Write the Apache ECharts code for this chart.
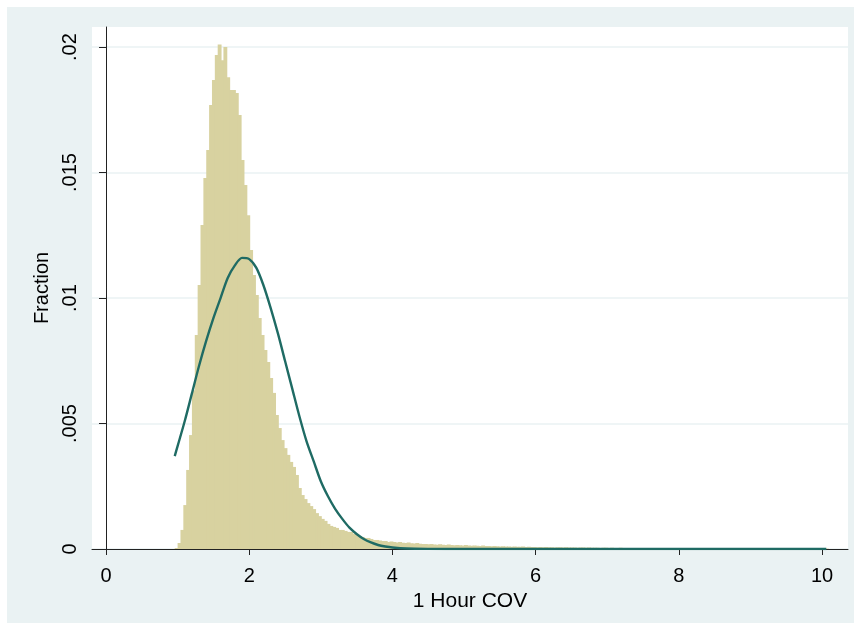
<!DOCTYPE html>
<html>
<head>
<meta charset="utf-8">
<script src="https://cdn.jsdelivr.net/npm/echarts@6.0.0/dist/echarts.min.js"></script>
<style>
  html, body { margin: 0; padding: 0; background: #fff; }
  #main { width: 860px; height: 630px; }
</style>
</head>
<body>
<div id="main"></div>
<script>
// histogram: bins of equal width, starting at binStart
var binStart = 0.96;
var binWidth = 0.04;
// fraction per bin, main body (1 - 4)
var fracBody = [
  0.00004, 0.00024, 0.00076, 0.00175, 0.00315, 0.00454, 0.00633, 0.00853, 0.01052, 0.01291,
  0.01478, 0.0159, 0.01769, 0.01869, 0.01968, 0.0201, 0.01948, 0.0200, 0.0188, 0.01829,
  0.01829, 0.01817, 0.01729, 0.0155, 0.0145, 0.0133, 0.01191, 0.01092, 0.01012, 0.0092,
  0.00853, 0.00793, 0.00745, 0.00681, 0.00622, 0.00534, 0.00482, 0.00434, 0.00402, 0.00375,
  0.00347, 0.00327, 0.00295, 0.00243, 0.00215, 0.00199, 0.00183, 0.00171, 0.00159, 0.00143,
  0.00131, 0.0012, 0.00112, 0.001, 0.00092, 0.00088, 0.00084, 0.00076, 0.00076, 0.00072,
  0.00068, 0.00068, 0.0006, 0.00056, 0.00052, 0.00048, 0.00044, 0.00044, 0.0004, 0.00036,
  0.00036, 0.00034, 0.00032, 0.00032, 0.00028
];
// long right tail (4 - 10)
var fracTail = [
  0.0003, 0.00028, 0.00026, 0.00028, 0.00025, 0.00024, 0.00026, 0.00023, 0.00022, 0.00024, 0.00021, 0.0002,
  0.0002, 0.00019, 0.0002, 0.00018, 0.00017, 0.00019, 0.00017, 0.00016, 0.00018, 0.00016, 0.00015, 0.00016,
  0.00015, 0.00014, 0.00016, 0.00014, 0.00013, 0.00014, 0.00013, 0.00012, 0.00014, 0.00012, 0.00012, 0.00011,
  0.00012, 0.00011, 0.0001, 0.00011, 0.0001, 0.0001, 0.00009, 0.0001, 0.00009, 0.00009, 0.0001, 0.00008,
  0.00009, 0.00008, 0.00008, 0.00007, 0.00008, 0.00007, 0.00008, 0.00007, 0.00007, 0.00006, 0.00007, 0.00007,
  0.00006, 0.00007, 0.00006, 0.00006, 0.00006, 0.00005, 0.00006, 0.00006, 0.00005, 0.00006, 0.00005,
  0.00005, 0.00005, 0.00004, 0.00005, 0.00005, 0.00004, 0.00005, 0.00004, 0.00004, 0.00005, 0.00004, 0.00004,
  0.00004, 0.00003, 0.00004, 0.00004, 0.00003, 0.00004, 0.00003, 0.00004, 0.00003, 0.00003, 0.00004, 0.00003,
  0.00003, 0.00003, 0.00004, 0.00003, 0.00003, 0.00003,
  0.00003, 0.00002, 0.00003, 0.00003, 0.00002, 0.00003, 0.00002, 0.00003, 0.00002, 0.00002, 0.00003, 0.00002,
  0.00002, 0.00003, 0.00002, 0.00002, 0.00002, 0.00003, 0.00002, 0.00002, 0.00002, 0.00002, 0.00003, 0.00002,
  0.00002, 0.00002, 0.00002, 0.00002, 0.00003, 0.00002, 0.00002, 0.00002, 0.00002, 0.00002, 0.00002, 0.00002,
  0.00002, 0.00002, 0.00003, 0.00002, 0.00002, 0.00002, 0.00002, 0.00002, 0.00002, 0.00002, 0.00002, 0.00002,
  0.00002, 0.00002, 0.00002, 0.00002
];

// normal density overlay
var curveX = [0.96, 1.0, 1.1, 1.2, 1.3, 1.4, 1.5, 1.6, 1.7, 1.8, 1.9, 2.0, 2.1, 2.2, 2.3, 2.4, 2.5, 2.6,
  2.7, 2.8, 2.9, 3.0, 3.1, 3.2, 3.3, 3.4, 3.5, 3.6, 3.7, 3.8, 3.9, 4.0, 4.2, 4.5, 5.0, 6.0, 7.0, 8.0, 9.0, 10.06];
var curveY = [0.0037, 0.0041, 0.0051, 0.0062, 0.0073, 0.0083, 0.0092, 0.0100, 0.0108, 0.0113, 0.0116, 0.01155,
  0.0112, 0.0105, 0.0096, 0.0086, 0.0075, 0.0064, 0.0053, 0.0043, 0.0035, 0.0027, 0.0021, 0.0016, 0.0012,
  0.00085, 0.0006, 0.0004, 0.00026, 0.00016, 0.0001, 0.00006, 0.00002, 0.000005, 0, 0, 0, 0, 0, 0];

var xTicks = [0, 2, 4, 6, 8, 10];
var yTicks = [0, 0.005, 0.01, 0.015, 0.02];

var fractions = fracBody.concat(fracTail);
var histData = fractions.map(function (v, i) {
  return [binStart + i * binWidth, v];
});
var curveData = curveX.map(function (x, i) {
  return [x, curveY[i]];
});

var font = "'Liberation Sans', Arial, sans-serif";
var chart = echarts.init(document.getElementById('main'));

chart.setOption({
  backgroundColor: '#fff',
  animation: false,
  graphic: [{
    type: 'rect',
    z: -10,
    shape: { x: 7, y: 7, width: 847, height: 616 },
    style: { fill: '#EAF2F3' }
  }],
  grid: {
    left: 92,
    right: 12,
    top: 27,
    bottom: 81,
    show: true,
    backgroundColor: '#fff',
    borderWidth: 0
  },
  xAxis: {
    type: 'value',
    min: -0.1955,
    max: 10.363,
    name: '1 Hour COV',
    nameLocation: 'middle',
    nameGap: 42,
    nameTextStyle: { fontFamily: font, fontSize: 21, color: '#000' },
    axisLine: { show: true, onZero: false, lineStyle: { color: '#222', width: 1 } },
    axisTick: { show: true, length: 6, customValues: xTicks, lineStyle: { color: '#222' } },
    axisLabel: {
      customValues: xTicks,
      margin: 17,
      fontFamily: font,
      fontSize: 20,
      color: '#000'
    },
    splitLine: { show: false }
  },
  yAxis: {
    type: 'value',
    min: 0,
    max: 0.0208,
    interval: 0.005,
    name: 'Fraction',
    nameLocation: 'middle',
    nameGap: 40,
    nameTextStyle: { fontFamily: font, fontSize: 20, color: '#000' },
    axisLine: { show: true, lineStyle: { color: '#222', width: 1 } },
    axisTick: { show: true, length: 7, customValues: yTicks, lineStyle: { color: '#222' } },
    axisLabel: {
      customValues: yTicks,
      rotate: 90,
      margin: 12,
      fontFamily: font,
      fontSize: 20,
      color: '#000',
      formatter: function (v) {
        return v === 0 ? '0' : String(+v.toFixed(4)).replace(/^0/, '');
      }
    },
    splitLine: { show: true, customValues: yTicks, lineStyle: { color: '#EAF2F3', width: 1.5 } }
  },
  series: [
    {
      type: 'custom',
      data: histData,
      encode: { x: 0, y: 1 },
      renderItem: function (params, api) {
        var x0 = api.value(0);
        var top = api.coord([x0, api.value(1)]);
        var bot = api.coord([x0 + binWidth, 0]);
        // a little overlap so neighbouring bars do not leave hairline gaps
        return {
          type: 'rect',
          shape: { x: top[0], y: top[1], width: bot[0] - top[0] + 1, height: bot[1] - top[1] },
          style: { fill: '#D8D2A0', stroke: null }
        };
      }
    },
    {
      type: 'line',
      data: curveData,
      smooth: 0.3,
      showSymbol: false,
      lineStyle: { color: '#1F6B64', width: 2.4 },
      z: 5
    }
  ]
});
</script>
</body>
</html>
